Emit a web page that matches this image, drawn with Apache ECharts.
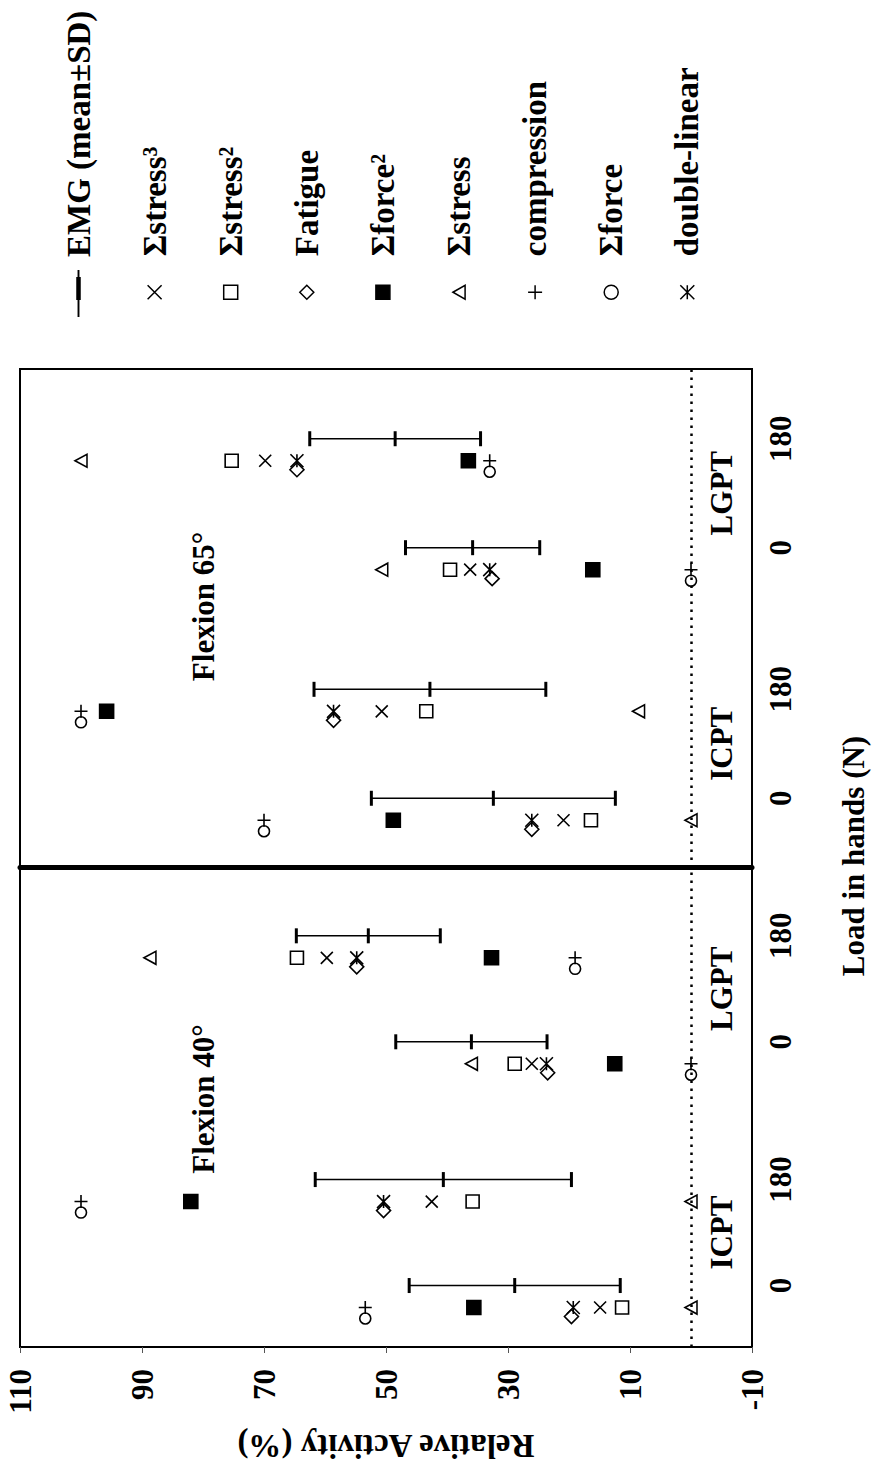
<!DOCTYPE html>
<html>
<head>
<meta charset="utf-8">
<script src="https://cdn.jsdelivr.net/npm/echarts@6/dist/echarts.min.js"></script>
<style>
html, body { margin: 0; padding: 0; background: #fff; overflow: hidden; }
#wrap { position: absolute; left: 0; top: 0; width: 872px; height: 1473px; overflow: hidden; background: #fff; }
#chart { position: absolute; left: 0; top: 0; width: 1473px; height: 872px;
  transform-origin: 0 0; transform: translateY(1473px) rotate(-90deg); }
</style>
</head>
<body>
<div id="wrap"><div id="chart"></div></div>
<script>
// ---------------- data ----------------
const loadLabels = ['0', '180', '0', '180'];
const groupLabels = ['ICPT', 'LGPT'];
const panelTitles = ['Flexion 40°', 'Flexion 65°'];
const yTickValues = [-10, 10, 30, 50, 70, 90, 110];
const legendNames = ['EMG (mean±SD)', 'Σstress³', 'Σstress²', 'Fatigue', 'Σforce²',
                     'Σstress', 'compression', 'Σforce', 'double-linear'];

// Flexion 40°  (order: ICPT 0, ICPT 180, LGPT 0, LGPT 180)
const emgMean40      = [28.9, 40.6, 36.0, 52.9];
const emgSD40        = [17.3, 21.0, 12.4, 11.8];
const stress3_40     = [14.9, 42.5, 26.1, 59.7];
const stress2_40     = [11.3, 35.8, 28.9, 64.6];
const fatigue40      = [19.6, 50.4, 23.5, 54.8];
const force2_40      = [35.6, 82.0, 12.5, 32.7];
const stress_40      = [0.0, 0.0, 36.0, 88.7];
const compression40  = [53.4, 100.0, 0.0, 19.0];
const force_40       = [53.4, 100.0, 0.0, 19.0];
const doubleLinear40 = [19.3, 50.4, 23.7, 54.8];

// Flexion 65°
const emgMean65      = [32.4, 42.8, 35.8, 48.5];
const emgSD65        = [20.0, 19.0, 11.0, 14.0];
const stress3_65     = [20.9, 50.7, 36.2, 69.8];
const stress2_65     = [16.4, 43.4, 39.5, 75.3];
const fatigue65      = [26.1, 58.6, 32.6, 64.6];
const force2_65      = [48.8, 95.8, 16.1, 36.5];
const stress_65      = [0.0, 8.6, 50.7, 100.0];
const compression65  = [70.0, 100.0, 0.0, 33.0];
const force_65       = [70.0, 100.0, 0.0, 33.0];
const doubleLinear65 = [26.1, 58.6, 33.0, 64.6];

// ---------------- layout / style ----------------
const catPos = [0, 1, 2.3, 3.3];           // category slots on the load axis
const FONT = '"Liberation Serif", "Times New Roman", serif';
const txt = (size) => ({ fontFamily: FONT, fontWeight: 'bold', fontSize: size, color: '#000' });

const SYM = {
  cross:   'path://M0,0L10,10M10,0L0,10',
  square:  'path://M0,0H10V10H0Z',
  diamond: 'path://M5,0L10,5L5,10L0,5Z',
  tri:     'path://M5,0L10,8.7L0,8.7Z',
  plus:    'path://M5,0V10M0,5H10',
  circle:  'path://M0,5A5,5,0,1,1,10,5A5,5,0,1,1,0,5Z',
  star:    'path://M0,0L10,10M10,0L0,10M0,5H10',
  emg:     'path://M0,1.3H47V3.2H0ZM17,0H40V4.5H17Z'
};

const markerDefs = [
  { name: legendNames[1], vals: [stress3_40, stress3_65],     sym: SYM.cross,   size: 12,       fill: 'rgba(0,0,0,0)', off: -22 },
  { name: legendNames[2], vals: [stress2_40, stress2_65],     sym: SYM.square,  size: 13,       fill: 'rgba(0,0,0,0)', off: -22 },
  { name: legendNames[3], vals: [fatigue40, fatigue65],       sym: SYM.diamond, size: [14, 14], fill: 'rgba(0,0,0,0)', off: -31 },
  { name: legendNames[4], vals: [force2_40, force2_65],       sym: SYM.square,  size: 14,       fill: '#000',          off: -22 },
  { name: legendNames[5], vals: [stress_40, stress_65],       sym: SYM.tri,     size: [13, 12], fill: 'rgba(0,0,0,0)', off: -22 },
  { name: legendNames[6], vals: [compression40, compression65], sym: SYM.plus,  size: 13,       fill: 'rgba(0,0,0,0)', off: -22 },
  { name: legendNames[7], vals: [force_40, force_65],         sym: SYM.circle,  size: 11,       fill: 'rgba(0,0,0,0)', off: -33 },
  { name: legendNames[8], vals: [doubleLinear40, doubleLinear65], sym: SYM.star, size: 13,      fill: 'rgba(0,0,0,0)', off: -22 }
];
const emgDefs = [[emgMean40, emgSD40], [emgMean65, emgSD65]];

const grids = [
  { left: 126, top: 20, width: 479, height: 732 },
  { left: 605, top: 20, width: 499, height: 732 }
];
const xRanges = [[-0.58, 3.94], [-0.64, 3.94]];

const legendTextStyle = (padLeft) => Object.assign(txt(33), { lineHeight: 14, padding: [0, 0, 0, padLeft] });

const option = {
  animation: false,
  backgroundColor: '#fff',
  grid: grids.map(g => Object.assign({ show: true, borderColor: '#000', borderWidth: 2, backgroundColor: 'transparent' }, g)),
  xAxis: [0, 1].map(p => ({
    type: 'value', gridIndex: p, min: xRanges[p][0], max: xRanges[p][1], position: 'bottom',
    axisLine: { show: false, onZero: false }, axisTick: { show: false }, splitLine: { show: false },
    axisLabel: {
      customValues: catPos, margin: 13, ...txt(31),
      formatter: (v) => { const i = catPos.indexOf(v); return i >= 0 ? loadLabels[i] : ''; }
    }
  })),
  yAxis: [
    {
      type: 'value', gridIndex: 0, min: -10, max: 110, position: 'left',
      axisLine: { show: true, onZero: false, lineStyle: { color: '#000', width: 2 } },
      axisTick: { show: true, customValues: yTickValues, length: 6, lineStyle: { color: '#555', width: 1 } },
      axisLabel: { customValues: yTickValues, margin: 22, ...txt(31) },
      splitLine: { show: false },
      name: 'Relative Activity (%)', nameLocation: 'middle', nameRotate: 90, nameGap: 82,
      nameTextStyle: txt(33)
    },
    {
      type: 'value', gridIndex: 1, min: -10, max: 110, position: 'left',
      axisLine: { show: true, onZero: false, lineStyle: { color: '#000', width: 5 } },
      axisTick: { show: false }, axisLabel: { show: false }, splitLine: { show: false }
    }
  ],
  title: [{
    text: 'Load in hands (N)', left: 617, top: 853, textAlign: 'center', textVerticalAlign: 'middle',
    padding: 0, textStyle: txt(31)
  }],
  legend: legendNames.map((n, i) => (i === 0 ? {
    data: [{ name: n, icon: SYM.emg }],
    orient: 'vertical', left: 1156, top: 69 + 76.1 * i - 7,
    itemWidth: 47, itemHeight: 14, itemGap: 0, padding: 0,
    symbolKeepAspect: true, selectedMode: false,
    textStyle: legendTextStyle(8)
  } : {
    data: [n],
    orient: 'vertical', left: 1173, top: 69 + 76.1 * i - 7,
    itemWidth: 14, itemHeight: 14, itemGap: 0, padding: 0,
    symbolKeepAspect: true, selectedMode: false,
    itemStyle: { borderWidth: 1.5 },
    textStyle: legendTextStyle(24)
  })),
  series: []
};

[0, 1].forEach(p => {
  // EMG mean ± SD error bars
  option.series.push({
    type: 'custom', name: legendNames[0], xAxisIndex: p, yAxisIndex: p, clip: false,
    itemStyle: { color: '#000' },
    data: catPos.map((x, i) => [x, emgDefs[p][0][i], emgDefs[p][1][i]]),
    encode: { x: 0, y: 1 },
    renderItem: (params, api) => {
      const x = api.value(0), m = api.value(1), sd = api.value(2);
      const a = api.coord([x, m + sd]), b = api.coord([x, m - sd]), c = api.coord([x, m]);
      const h = 7.5;
      const cap = (pt) => ({ type: 'line', shape: { x1: pt[0] - h, y1: pt[1], x2: pt[0] + h, y2: pt[1] },
                             style: { stroke: '#000', lineWidth: 3 } });
      return { type: 'group', children: [
        { type: 'line', shape: { x1: a[0], y1: a[1], x2: b[0], y2: b[1] }, style: { stroke: '#000', lineWidth: 1.5 } },
        cap(a), cap(b), cap(c)
      ] };
    },
    markLine: {
      silent: true, symbol: ['none', 'none'], label: { show: false },
      lineStyle: { color: '#000', width: 2.5, type: [2.5, 5.5], opacity: 1 },
      data: [{ yAxis: 0 }]
    },
    z: 3
  });
  // model markers
  markerDefs.forEach(d => {
    option.series.push({
      type: 'scatter', name: d.name, xAxisIndex: p, yAxisIndex: p,
      data: catPos.map((x, i) => [x, d.vals[p][i]]),
      symbol: d.sym, symbolSize: d.size, symbolOffset: [d.off, 0],
      itemStyle: { color: d.fill, borderColor: '#000', borderWidth: 1.6, opacity: 1 },
      emphasis: { disabled: true }, silent: true, z: 4
    });
  });
  // group labels (ICPT / LGPT) and panel title
  option.series.push({
    type: 'scatter', name: 'annot' + p, xAxisIndex: p, yAxisIndex: p,
    symbolSize: 1, itemStyle: { color: 'rgba(0,0,0,0)', opacity: 1 }, silent: true,
    data: [
      { name: groupLabels[0], value: [(catPos[0] + catPos[1]) / 2, -5] },
      { name: groupLabels[1], value: [(catPos[2] + catPos[3]) / 2, -5] },
      { name: panelTitles[p], value: [1.76, 80] }
    ],
    label: { show: true, position: 'inside', formatter: (q) => q.name, ...txt(31), opacity: 1,
             textBorderWidth: 0 },
    emphasis: { disabled: true },
    z: 5
  });
});

const chart = echarts.init(document.getElementById('chart'), null, { renderer: 'svg', width: 1473, height: 872 });
chart.setOption(option);
</script>
</body>
</html>
